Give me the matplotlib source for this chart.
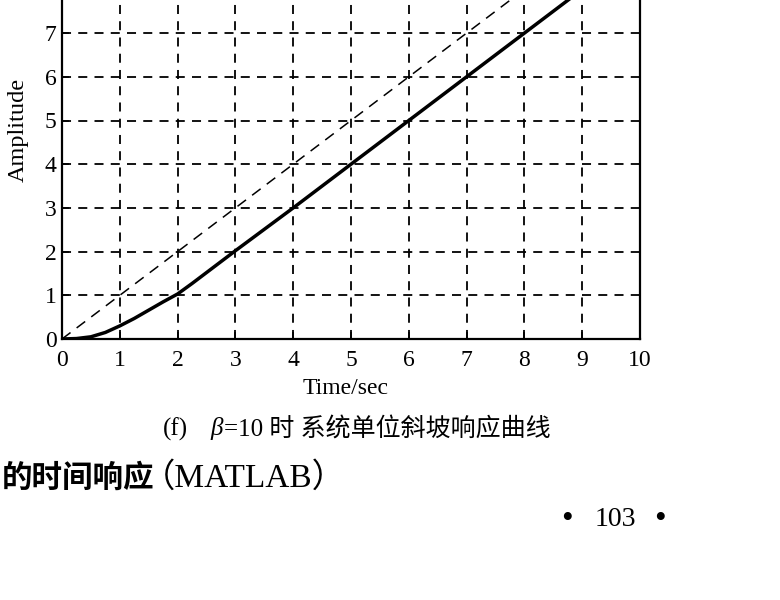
import numpy as np
import matplotlib.pyplot as plt

# ramp input (dashed) and system response (solid)
t_ramp = [0, 10]
r_ramp = [0, 10]

t_resp = [0, 0.25, 0.5, 0.75, 1.0, 1.25, 1.5, 1.75, 2.0, 2.25, 2.5, 3, 4, 5, 6, 7, 8, 9, 10]
y_resp = [0, 0.01, 0.05, 0.15, 0.3, 0.47, 0.66, 0.85, 1.03, 1.27, 1.52, 2.02, 3.0, 4.0, 5.0, 6.0, 7.0, 8.0, 9.0]

xticks = list(range(0, 11))
yticks = list(range(0, 11))
# 9 and 10 fall above the page crop
ylabels = ['0', '1', '2', '3', '4', '5', '6', '7', '8', '', '']

serif = ['Liberation Serif', 'DejaVu Serif']
mixed = ['Liberation Serif', 'Noto Sans CJK SC']

fig = plt.figure(figsize=(7.8, 6), dpi=100)
# axes runs past the top of the page crop, like the scan
ax = fig.add_axes([62/780, 261/600, 578/780, 437/600])

ax.plot(t_ramp, r_ramp, color='black', lw=1.1, dashes=(7, 5))
ax.plot(t_resp, y_resp, color='black', lw=2.5)

ax.set_xlim(0, 10)
ax.set_ylim(0, 10)
ax.set_xticks(xticks)
ax.set_yticks(yticks)
ax.set_yticklabels(ylabels)
ax.grid(True, color='black', lw=1.3, dashes=(5, 4))
for s in ax.spines.values():
    s.set_linewidth(1.6)
ax.tick_params(direction='in', length=5, width=1.2, labelsize=17)
ax.tick_params(axis='x', pad=8)
ax.tick_params(axis='y', pad=4)
for lab in ax.get_xticklabels() + ax.get_yticklabels():
    lab.set_family(serif)

fig.text(18/780, 1 - 130/600, 'Amplitude', family=serif, fontsize=17.5,
         rotation=90, ha='center', va='center')
fig.text(346/780, 1 - 388/600, 'Time/sec', family=serif, fontsize=17,
         ha='center', va='center')

# caption: (f) β=10 时 系统单位斜坡响应曲线
cy = 1 - 429/600
fig.text(163/780, cy, '(f)', family=serif, fontsize=18, ha='left', va='center')
fig.text(210/780, cy, 'β', family=serif, style='italic', fontsize=18, ha='left', va='center')
fig.text(224/780, cy, '=10 时 系统单位斜坡响应曲线', family=mixed, fontsize=18,
         ha='left', va='center')

fig.text(2/780, 1 - 478/600, '的时间响应', family=['Noto Sans CJK SC'],
         fontsize=22, ha='left', va='center', weight='bold')
fig.text(142/780, 1 - 478/600, '（MATLAB）', family=mixed,
         fontsize=24, ha='left', va='center')

fig.text(567/780, 1 - 520/600, '•', family=serif, fontsize=24, ha='center', va='center')
fig.text(615/780, 1 - 520/600, '103', family=serif, fontsize=20, ha='center', va='center')
fig.text(660/780, 1 - 520/600, '•', family=serif, fontsize=24, ha='center', va='center')

fig.savefig('out.png', dpi=100)
